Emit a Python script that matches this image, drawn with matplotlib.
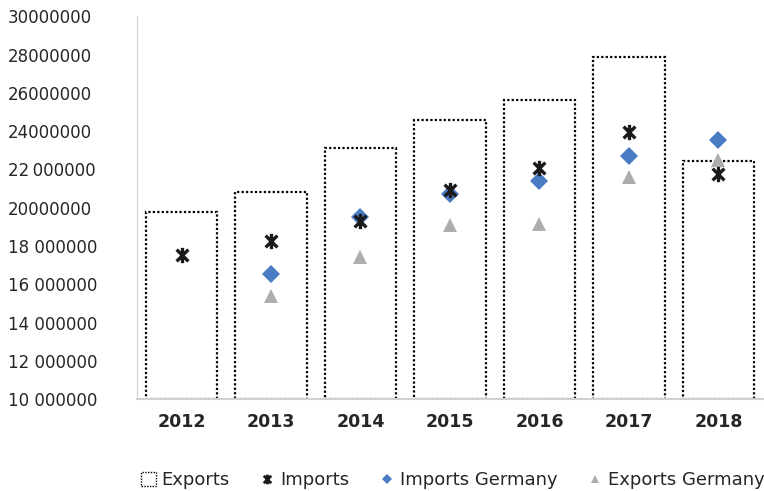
import numpy as np
import matplotlib
matplotlib.use("Agg")
import matplotlib.pyplot as plt
from matplotlib.path import Path
from matplotlib.patches import Patch
from matplotlib.lines import Line2D

years = ["2012", "2013", "2014", "2015", "2016", "2017", "2018"]
exports = [19750000, 20800000, 23100000, 24600000, 25650000, 27850000, 22450000]
imports = [17550000, 18250000, 19300000, 20950000, 22050000, 23950000, 21750000]
imports_germany = [np.nan, 16550000, 19500000, 20700000, 21420000, 22680000, 23550000]
exports_germany = [np.nan, 15380000, 17400000, 19080000, 19140000, 21580000, 22480000]

y_ticks = [10000000, 12000000, 14000000, 16000000, 18000000, 20000000,
           22000000, 24000000, 26000000, 28000000, 30000000]
y_tick_labels = ["10 000000", "12 000000", "14 000000", "16 000000", "18 000000",
                 "20000000", "22\u2009000000", "24000000", "26000000", "28000000",
                 "30000000"]

txt = "#262626"
plt.rcParams['font.family'] = ['DejaVu Sans']

# X with a vertical stroke through the middle
star = Path([(-1, -1), (1, 1), (-1, 1), (1, -1), (0, -1.3), (0, 1.3)],
            [Path.MOVETO, Path.LINETO, Path.MOVETO, Path.LINETO, Path.MOVETO, Path.LINETO])

fig = plt.figure(figsize=(7.64, 4.91), dpi=100)
ax = fig.add_axes([0.179, 0.187, 0.82, 0.780])

x = np.arange(len(years))
ax.bar(x, np.array(exports) - 10000000, bottom=10000000, width=0.8,
       facecolor="white", edgecolor="black", linestyle=(0, (1, 1)), linewidth=1.6, zorder=2)
ax.plot(x, imports, linestyle="none", marker=star, markersize=11, markeredgewidth=2.4,
        color="#1a1a1a", fillstyle="none", zorder=4)
ax.plot(x, imports_germany, linestyle="none", marker="D", markersize=9,
        color="#4a7cc4", markeredgewidth=0, zorder=3)
ax.plot(x, exports_germany, linestyle="none", marker="^", markersize=10,
        color="#adadad", markeredgewidth=0, zorder=3)

ax.set_xlim(-0.5, len(years) - 0.5)
ax.set_ylim(10000000, 30000000)
ax.set_yticks(y_ticks)
ax.set_yticklabels(y_tick_labels, fontsize=12, color=txt)
ax.set_xticks(x)
ax.set_xticklabels(years, fontsize=12.5, fontweight="bold", color=txt)
ax.tick_params(axis="both", length=0)
ax.tick_params(axis="x", pad=10)
for lab in ax.get_yticklabels():
    lab.set_horizontalalignment("left")
ax.yaxis.set_tick_params(pad=93)

for side in ["top", "right"]:
    ax.spines[side].set_visible(False)
ax.spines["left"].set_color("#d0d0d0")
ax.spines["bottom"].set_color("#d0d0d0")
ax.spines["bottom"].set_linewidth(1.5)

handles = [
    Patch(facecolor="white", edgecolor="black", linestyle=(0, (1, 1)), linewidth=1.0),
    Line2D([], [], linestyle="none", marker=star, markersize=7, markeredgewidth=2,
           color="#1a1a1a", fillstyle="none"),
    Line2D([], [], linestyle="none", marker="D", markersize=5, color="#4a7cc4",
           markeredgewidth=0),
    Line2D([], [], linestyle="none", marker="^", markersize=6, color="#adadad",
           markeredgewidth=0),
]
labels = ["Exports", "Imports", "Imports Germany", "Exports Germany"]
fig.legend(handles, labels, loc="lower center", bbox_to_anchor=(0.593, -0.03), ncol=4,
           frameon=False, fontsize=13, handlelength=0.8, handleheight=0.8,
           handletextpad=0.3, columnspacing=1.7, labelcolor=txt)

fig.savefig("out.png", dpi=100)
